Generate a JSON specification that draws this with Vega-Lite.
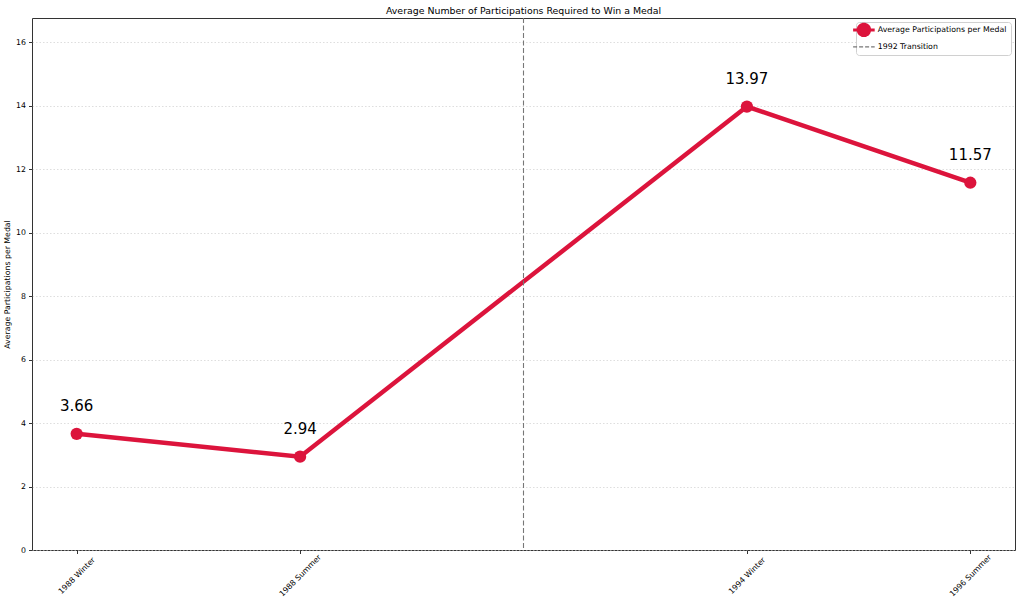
{
  "$schema": "https://vega.github.io/schema/vega-lite/v6.json",
  "width": 983,
  "height": 532,
  "autosize": {"type": "none"},
  "padding": {"left": 32, "top": 18, "right": 8, "bottom": 53},
  "config": {
    "font": "DejaVu Sans",
    "view": {"stroke": "#333", "strokeWidth": 1},
    "axis": {"labelFont": "DejaVu Sans", "titleFont": "DejaVu Sans", "labelFontSize": 7.8, "titleFontSize": 7.8, "titleFontWeight": "normal", "labelColor": "#000", "titleColor": "#000", "tickColor": "#333", "domainColor": "#333", "tickSize": 3.5}
  },
  "title": {"text": "Average Number of Participations Required to Win a Medal", "fontSize": 9.4, "fontWeight": "normal", "font": "DejaVu Sans", "offset": 1, "color": "#000"},
  "datasets": {
    "pts": [
      {"pos": 0, "label": "1988 Winter", "value": 3.66, "series": "Average Participations per Medal"},
      {"pos": 1, "label": "1988 Summer", "value": 2.94, "series": "Average Participations per Medal"},
      {"pos": 3, "label": "1994 Winter", "value": 13.97, "series": "Average Participations per Medal"},
      {"pos": 4, "label": "1996 Summer", "value": 11.57, "series": "Average Participations per Medal"}
    ],
    "trans": [{"pos": 2, "series": "1992 Transition"}]
  },
  "layer": [
    {
      "data": {"name": "pts"},
      "mark": {"type": "line", "strokeWidth": 4.5, "point": {"filled": true, "size": 150, "opacity": 1}},
      "encoding": {
        "x": {"field": "pos", "type": "quantitative", "scale": {"domain": [-0.2, 4.2], "nice": false, "zero": false},
          "axis": {"values": [0, 1, 3, 4], "labelExpr": "datum.value == 0 ? '1988 Winter' : datum.value == 1 ? '1988 Summer' : datum.value == 3 ? '1994 Winter' : '1996 Summer'", "labelAngle": -45, "labelAlign": "center", "labelBaseline": "middle", "grid": false, "title": null, "domain": false, "labelPadding": 22, "labelBound": false}},
        "y": {"field": "value", "type": "quantitative", "scale": {"domain": [0, 16.76], "nice": false},
          "axis": {"values": [0, 2, 4, 6, 8, 10, 12, 14, 16], "grid": true, "gridDash": [1.5, 2], "gridColor": "#c8c8c8", "gridWidth": 0.6, "title": "Average Participations per Medal", "domain": false, "titlePadding": 4, "labelPadding": 3}},
        "color": {"field": "series", "type": "nominal",
          "scale": {"domain": ["Average Participations per Medal", "1992 Transition"], "range": ["#DC143C", "#777777"]},
          "legend": {"title": null, "orient": "top-right", "offset": 4, "fillColor": "white", "strokeColor": "#d0d0d0", "padding": 4, "cornerRadius": 3, "labelFontSize": 7.8, "labelFont": "DejaVu Sans", "labelColor": "#000", "symbolSize": 144, "symbolStrokeWidth": 2, "rowPadding": 0, "labelOffset": 10,
            "encode": {"symbols": {"update": {
              "shape": {"signal": "datum.value == '1992 Transition' ? 'M-1.8,0L1.8,0' : 'M-1.8,0L-0.95,0A0.95,0.95 0 1,1 0.95,0L1.8,0L0.95,0A0.95,0.95 0 1,1 -0.95,0Z'"},
              "strokeDash": {"signal": "datum.value == '1992 Transition' ? [4,2] : [1,0]"},
              "fill": {"signal": "datum.value == '1992 Transition' ? 'transparent' : '#DC143C'"},
              "strokeWidth": {"signal": "datum.value == '1992 Transition' ? 1.2 : 3"}
            }}}}
        }
      }
    },
    {
      "data": {"name": "pts"},
      "mark": {"type": "text", "fontSize": 15, "dy": -23, "baseline": "alphabetic", "color": "#000", "font": "DejaVu Sans"},
      "encoding": {
        "x": {"field": "pos", "type": "quantitative"},
        "y": {"field": "value", "type": "quantitative"},
        "text": {"field": "value", "type": "quantitative", "format": ".2f"}
      }
    },
    {
      "data": {"name": "trans"},
      "mark": {"type": "rule", "strokeDash": [5, 2.5], "strokeWidth": 1.1},
      "encoding": {
        "x": {"field": "pos", "type": "quantitative"},
        "color": {"field": "series", "type": "nominal"}
      }
    }
  ]
}
